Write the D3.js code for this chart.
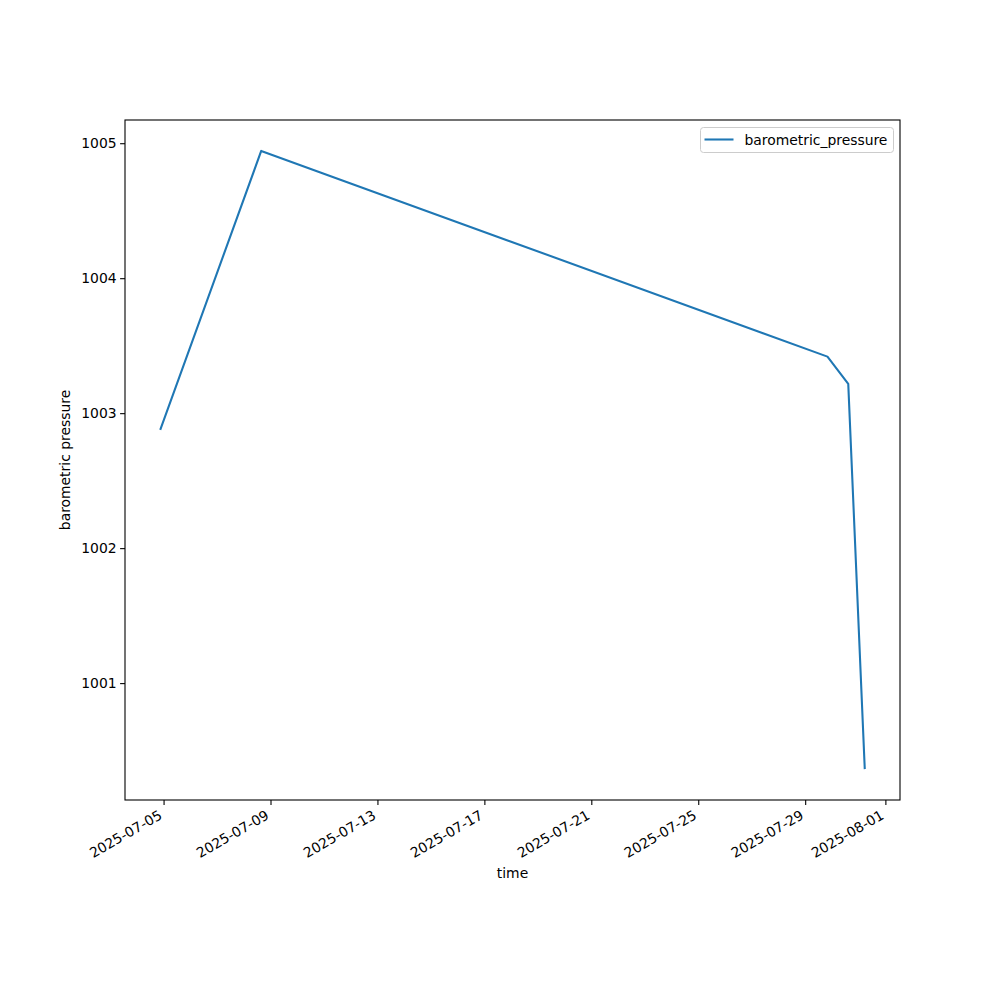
<!DOCTYPE html>
<html>
<head>
<meta charset="utf-8">
<script src="https://cdn.jsdelivr.net/npm/d3@7"></script>
<style>
    body { margin: 0; background: #fff; }
    text { font-family: "DejaVu Sans", sans-serif; }
</style>
</head>
<body>
<div id="chart"></div>
<script>
const times = ["2025-07-04T21:00", "2025-07-08T15:40", "2025-07-29T20:00", "2025-07-30T14:40", "2025-07-31T05:30"];
const pressure = [1002.876, 1004.943, 1003.419, 1003.217, 1000.363];
const xTickLabels = ["2025-07-05", "2025-07-09", "2025-07-13", "2025-07-17", "2025-07-21", "2025-07-25", "2025-07-29", "2025-08-01"];
const yTickValues = [1001, 1002, 1003, 1004, 1005];

const width = 1000;
const height = 1000;
const margin = { left: 125, right: 100, top: 120, bottom: 200 };

const parseTime = d3.utcParse("%Y-%m-%dT%H:%M");
const parseDay = d3.utcParse("%Y-%m-%d");
const data = times.map((t, i) => ({ time: parseTime(t), value: pressure[i] }));

const svg = d3.select("#chart")
    .append("svg")
    .attr("width", width)
    .attr("height", height);

// 5% padding like matplotlib
const tExt = d3.extent(data, d => +d.time);
const tPad = (tExt[1] - tExt[0]) * 0.05;
const vExt = d3.extent(data, d => d.value);
const vPad = (vExt[1] - vExt[0]) * 0.05;

const x = d3.scaleUtc()
    .domain([new Date(tExt[0] - tPad), new Date(tExt[1] + tPad)])
    .range([margin.left, width - margin.right]);

const y = d3.scaleLinear()
    .domain([vExt[0] - vPad, vExt[1] + vPad])
    .range([height - margin.bottom, margin.top]);

const xAxis = d3.axisBottom(x)
    .tickValues(xTickLabels.map(parseDay))
    .tickSize(4.9)
    .tickPadding(3.5)
    .tickFormat(d3.utcFormat("%Y-%m-%d"));

const gx = svg.append("g")
    .attr("transform", `translate(0,${height - margin.bottom})`)
    .call(xAxis);
gx.select(".domain").remove();
gx.selectAll("line").attr("stroke", "#000").attr("stroke-width", 1.1);
gx.selectAll("text")
    .attr("font-size", "13.9px")
    .attr("fill", "#000")
    .attr("text-anchor", "end")
    .attr("y", 0)
    .attr("dy", 0)
    .attr("transform", "translate(-1,18) rotate(-30)");

const yAxis = d3.axisLeft(y)
    .tickValues(yTickValues)
    .tickSize(4.9)
    .tickPadding(3.5)
    .tickFormat(d3.format("d"));

const gy = svg.append("g")
    .attr("transform", `translate(${margin.left},0)`)
    .call(yAxis);
gy.select(".domain").remove();
gy.selectAll("line").attr("stroke", "#000").attr("stroke-width", 1.1);
gy.selectAll("text").attr("font-size", "13.9px").attr("fill", "#000");

const line = d3.line()
    .x(d => x(d.time))
    .y(d => y(d.value));

svg.append("path")
    .datum(data)
    .attr("fill", "none")
    .attr("stroke", "#1f77b4")
    .attr("stroke-width", 2.08)
    .attr("stroke-linejoin", "round")
    .attr("d", line);

// axes frame
svg.append("rect")
    .attr("x", margin.left)
    .attr("y", margin.top)
    .attr("width", width - margin.left - margin.right)
    .attr("height", height - margin.top - margin.bottom)
    .attr("fill", "none")
    .attr("stroke", "#000")
    .attr("stroke-width", 1.1);

svg.append("text")
    .attr("x", (margin.left + width - margin.right) / 2)
    .attr("y", 878)
    .attr("text-anchor", "middle")
    .attr("font-size", "13.9px")
    .text("time");

svg.append("text")
    .attr("transform", `translate(70,${(margin.top + height - margin.bottom) / 2}) rotate(-90)`)
    .attr("text-anchor", "middle")
    .attr("font-size", "13.9px")
    .text("barometric pressure");

// legend
const legend = svg.append("g").attr("transform", "translate(700.5,127.5)");
legend.append("rect")
    .attr("width", 193)
    .attr("height", 25)
    .attr("rx", 3)
    .attr("fill", "#fff")
    .attr("fill-opacity", 0.8)
    .attr("stroke", "#ccc")
    .attr("stroke-width", 1);
legend.append("line")
    .attr("x1", 4).attr("x2", 33)
    .attr("y1", 12).attr("y2", 12)
    .attr("stroke", "#1f77b4")
    .attr("stroke-width", 2.08);
legend.append("text")
    .attr("x", 44)
    .attr("y", 17)
    .attr("font-size", "13.9px")
    .text("barometric_pressure");
</script>
</body>
</html>
